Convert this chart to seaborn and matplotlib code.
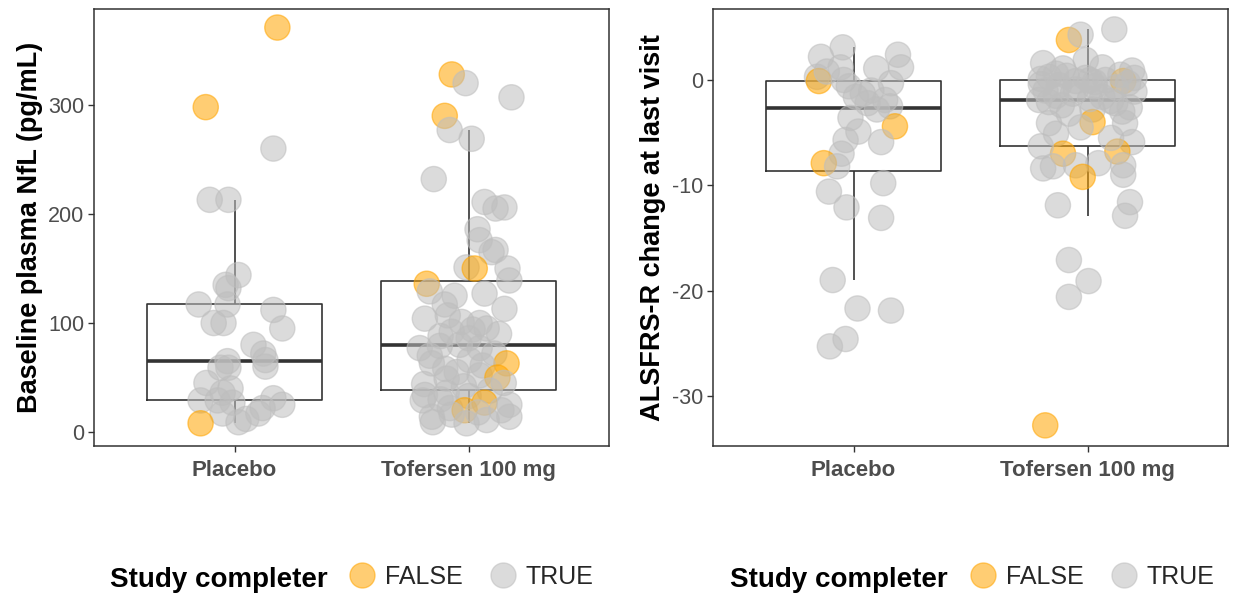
import numpy as np
import pandas as pd
import matplotlib
matplotlib.use("Agg")
import matplotlib.pyplot as plt
from matplotlib.lines import Line2D
import seaborn as sns

# ---------------------------------------------------------------------------
# Data
# ---------------------------------------------------------------------------
arms = ["Placebo", "Tofersen 100 mg"]

# Baseline plasma NfL (pg/mL), horizontal jitter (category units), completer flag
nfl_placebo = [371, 298, 260, 213, 213, 144, 135, 132, 117, 117, 112, 100, 100,
               95, 80, 72, 66, 60, 59, 59, 40, 36, 29, 29, 27, 31, 25, 17, 17,
               9, 8, 12, 22, 45, 65]
nfl_placebo_jit = [0.183, -0.123, 0.166, -0.106, -0.026, 0.017, -0.038, -0.026,
                   -0.153, -0.03, 0.166, -0.089, -0.047, 0.204, 0.081, 0.123,
                   0.132, 0.132, -0.06, -0.026, -0.017, -0.051, -0.145, -0.072,
                   -0.009, 0.166, 0.204, 0.102, -0.051, 0.017, -0.145, 0.05,
                   0.12, -0.12, -0.03]
nfl_placebo_done = [False, False, True, True, True, True, True, True, True, True,
                    True, True, True, True, True, True, True, True, True, True,
                    True, True, True, True, True, True, True, True, True, True,
                    False, True, True, True, True]

nfl_tofersen = [328, 320, 307, 290, 277, 269, 232, 211, 206, 205, 186, 176, 167,
                165, 151, 150, 150, 139, 136, 129, 127, 125, 117, 113, 107, 104,
                101, 100, 95, 94, 92, 90, 88, 86, 79, 80, 77, 77, 72, 70, 66, 63,
                63, 61, 58, 55, 52, 50, 49, 45, 44, 42, 38, 36, 34, 33, 30, 29,
                27, 25, 22, 20, 20, 18, 16, 14, 14, 11, 9, 8]
nfl_tofersen_jit = [-0.072, -0.013, 0.183, -0.102, -0.081, 0.013, -0.149, 0.068,
                    0.153, 0.115, 0.038, 0.047, 0.115, 0.098, -0.009, 0.026,
                    0.166, 0.174, -0.179, -0.166, 0.068, -0.06, -0.102, 0.153,
                    -0.089, -0.187, -0.03, 0.047, 0.077, 0.017, -0.072, 0.13,
                    -0.12, 0.0, -0.123, -0.038, -0.209, 0.047, 0.11, -0.166,
                    0.004, -0.157, 0.162, 0.06, -0.1, -0.051, 0.047, 0.123,
                    -0.094, 0.15, -0.19, -0.02, 0.09, -0.094, -0.187, 0.0,
                    -0.12, -0.196, 0.068, 0.174, -0.08, -0.017, 0.14, 0.04,
                    -0.072, -0.157, 0.174, 0.077, -0.153, -0.009]
nfl_tofersen_done = [False, True, True, False, True, True, True, True, True, True,
                     True, True, True, True, True, False, True, True, False, True,
                     True, True, True, True, True, True, True, True, True, True,
                     True, True, True, True, True, True, True, True, True, True,
                     True, True, False, True, True, True, True, False, True, True,
                     True, True, True, True, True, True, True, True, False, True,
                     True, False, True, True, True, True, True, True, True, True]

# ALSFRS-R change at last visit
als_placebo = [3.1, 2.2, 2.4, 1.2, 1.1, 1.2, 0.3, -0.1, 0.0, -0.3, -1.0, -1.9,
               -2.5, -3.6, -4.9, -4.4, -5.7, -5.9, -7.0, -7.9, -9.8, -10.6,
               -12.1, -13.1, -19.0, -21.7, -21.9, -24.6, -25.3, 0.8, -0.6, -1.3,
               -2.2, -2.8, -8.2, -1.6]
als_placebo_jit = [-0.046, -0.139, 0.19, 0.203, 0.097, -0.055, -0.156, -0.148,
                   -0.042, 0.16, 0.076, 0.135, 0.156, -0.013, 0.021, 0.177,
                   -0.034, 0.118, -0.051, -0.127, 0.127, -0.105, -0.03, 0.118,
                   -0.089, 0.017, 0.16, -0.034, -0.101, -0.114, -0.02, 0.04,
                   0.06, 0.1, -0.07, 0.01]
als_placebo_done = [True, True, True, True, True, True, True, False, True, True,
                    True, True, True, True, True, False, True, True, True, False,
                    True, True, True, True, True, True, True, True, True, True,
                    True, True, True, True, True, True]

als_tofersen = [4.8, 3.8, 4.3, 1.9, 1.6, 1.1, 0.3, 1.2, 0.9, 0.2, 0.0, -0.1,
                -0.3, -0.5, -1.9, -2.1, -1.3, -1.6, -2.2, -3.0, -2.8, -4.0, -3.2,
                -4.1, -5.1, -4.1, -5.9, -6.8, -7.0, -8.4, -8.2, -8.1, -7.9, -9.2,
                -8.1, -9.0, -11.6, -11.9, -12.9, -17.1, -19.1, -20.6, -32.8,
                -0.2, -0.4, -0.7, -0.9, -1.1, -1.5, -1.8, -2.0, -2.4, -2.6, 0.1,
                0.4, -0.6, -1.0, -4.5, -5.5, -6.3, 0.0, 0.5, 0.6, -0.1, 0.2]
als_tofersen_jit = [0.114, -0.08, -0.03, -0.008, -0.19, -0.105, -0.165, 0.063,
                    0.19, -0.008, 0.076, 0.152, 0.173, -0.122, -0.207, -0.165,
                    -0.063, 0.063, 0.118, 0.148, 0.021, 0.021, -0.08, -0.165,
                    -0.135, 0.16, 0.19, 0.127, -0.105, -0.19, -0.148, -0.05,
                    0.046, -0.021, 0.152, 0.152, 0.181, -0.127, 0.16, -0.08,
                    0.004, -0.08, -0.181, 0.03, -0.2, 0.12, -0.05, 0.2, -0.135,
                    0.01, 0.1, -0.11, 0.18, -0.2, -0.09, 0.03, -0.18, -0.03,
                    0.1, -0.2, 0.01, 0.14, -0.135, -0.05, 0.2]
als_tofersen_done = [True, False, True, True, True, True, True, True, True, True,
                     True, False, True, True, True, True, True, True, True, True,
                     True, False, True, True, True, True, True, False, False,
                     True, True, True, True, False, True, True, True, True, True,
                     True, True, True, False, True, True, True, True, True, True,
                     True, True, True, True, True, True, True, True, True, True,
                     True, True, True, True, True, True]


def make_frame(p_vals, p_jit, p_done, t_vals, t_jit, t_done):
    rows = []
    for arm, vals, jit, done in [(arms[0], p_vals, p_jit, p_done),
                                 (arms[1], t_vals, t_jit, t_done)]:
        for v, j, d in zip(vals, jit, done):
            rows.append({"arm": arm, "value": v, "jitter": j,
                         "completer": "TRUE" if d else "FALSE"})
    df = pd.DataFrame(rows)
    df["xpos"] = df["arm"].map({a: i for i, a in enumerate(arms)}) + df["jitter"]
    return df


nfl_df = make_frame(nfl_placebo, nfl_placebo_jit, nfl_placebo_done,
                    nfl_tofersen, nfl_tofersen_jit, nfl_tofersen_done)
als_df = make_frame(als_placebo, als_placebo_jit, als_placebo_done,
                    als_tofersen, als_tofersen_jit, als_tofersen_done)

# ---------------------------------------------------------------------------
# Style
# ---------------------------------------------------------------------------
sns.set_theme(style="white")
plt.rcParams["font.family"] = ["Liberation Sans", "DejaVu Sans"]
plt.rcParams["axes.unicode_minus"] = False

palette = {"FALSE": "#FFA500", "TRUE": "#BEBEBE"}
line_col = "#333333"
tick_col = "#4D4D4D"

fig = plt.figure(figsize=(12.36, 5.93), dpi=100)
ax_l = fig.add_axes([0.0761, 0.2479, 0.4167, 0.7369])
ax_r = fig.add_axes([0.5769, 0.2479, 0.4167, 0.7369])


def draw_panel(ax, df, ylabel, ylim, yticks):
    sns.boxplot(data=df, x="arm", y="value", order=arms, width=0.75,
                showfliers=False, showcaps=False, fill=False, whis=1.5,
                color=line_col, linecolor=line_col, linewidth=1.2,
                medianprops={"linewidth": 2.6, "color": line_col}, ax=ax)
    sns.scatterplot(data=df, x="xpos", y="value", hue="completer",
                    hue_order=["FALSE", "TRUE"], palette=palette, s=330,
                    alpha=0.55, edgecolor="face", linewidth=1.0,
                    legend=False, zorder=3, ax=ax)
    ax.set_xlim(-0.6, 1.6)
    ax.set_ylim(*ylim)
    ax.set_xticks([0, 1])
    ax.set_xticklabels(arms, fontsize=16, fontweight="bold", color=tick_col)
    ax.set_yticks(yticks)
    ax.set_yticklabels([str(t) for t in yticks], fontsize=15.5, color=tick_col)
    ax.set_xlabel("")
    ax.set_ylabel(ylabel, fontsize=19.5, fontweight="bold", color="black",
                  labelpad=4)
    ax.tick_params(axis="both", length=4, width=1.0, color=line_col,
                   direction="out", pad=3)
    ax.tick_params(axis="x", pad=6)
    ax.tick_params(left=True, bottom=True)
    ax.grid(False)
    for sp in ax.spines.values():
        sp.set_color(line_col)
        sp.set_linewidth(1.1)
        sp.set_visible(True)


draw_panel(ax_l, nfl_df, "Baseline plasma NfL (pg/mL)", (-12.8, 388),
           [0, 100, 200, 300])
draw_panel(ax_r, als_df, "ALSFRS-R change at last visit", (-34.76, 6.74),
           [-30, -20, -10, 0])


# Legends under each panel
def add_legend(title_x, legend_x):
    fig.text(title_x, 0.0101, "Study completer", fontsize=20,
             fontweight="bold", ha="left", va="baseline", color="black")
    handles = [Line2D([0], [0], marker="o", linestyle="none", markersize=18,
                      markerfacecolor=palette[k], markeredgecolor=palette[k],
                      alpha=0.55)
               for k in ["FALSE", "TRUE"]]
    fig.legend(handles, ["FALSE", "TRUE"], loc="center left",
               bbox_to_anchor=(legend_x, 0.027), ncol=2, frameon=False,
               fontsize=18, handlelength=1.0, handletextpad=0.42,
               columnspacing=1.1, borderpad=0, borderaxespad=0)


add_legend(110 / 1236, 349.5 / 1236)
add_legend(730 / 1236, 970.5 / 1236)

fig.savefig("out.png", dpi=100)
